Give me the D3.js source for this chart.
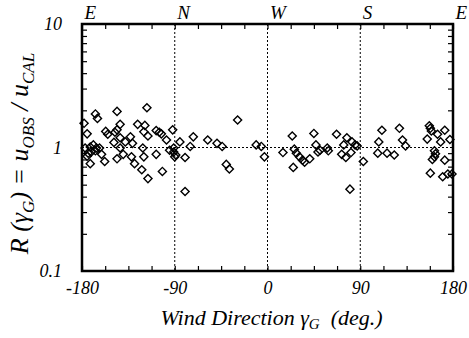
<!DOCTYPE html>
<html>
<head>
<meta charset="utf-8">
<script src="https://cdn.jsdelivr.net/npm/d3@7"></script>
<style>
  html, body { margin: 0; padding: 0; background: #fff; }
  svg { display: block; }
</style>
</head>
<body>
<div id="chart"></div>
<script>
const windDir = [
  -178, -175, -167, -165, -146, -117, -157, -155, -143, -146,
  -148, -126, -119, -120, -116, -108, -105, -103, -98, -92,
  -143, -149, -138, -133, -131, -172, -169, -166, -171, -167,
  -174, -163, -177, -161, -172, -158, -146, -140, -143, -132,
  -129, -122, -116, -121, -120, -108, -102, -95, -91, -175,
  -85, -72, -75, -91, -89, -90, -80, -80, -58, -49,
  -44, -40, -37, -29, -11, -6, -3,
  15, 24, 25, 26, 28, 31, 34, 36, 41, 45,
  47, 49, 58, 59, 67, 74, 77, 72, 76, 81,
  82, 85, 80, 87, 93, 51,
  108, 111, 107, 116, 123, 128, 131, 134, 157, 158,
  159, 155, 165, 168, 172, 177, 162, 163, 162, 160,
  172, 158, 170, 175, 179
];
const ratio = [
  1.57, 1.29, 1.87, 1.72, 1.96, 2.10, 1.35, 1.28, 1.54, 1.39,
  1.33, 1.54, 1.51, 1.34, 1.24, 1.37, 1.33, 1.29, 1.15, 1.39,
  1.20, 1.10, 1.11, 1.22, 1.08, 1.01, 1.05, 0.99, 0.92, 0.94,
  0.90, 0.99, 0.99, 0.88, 0.74, 0.77, 0.81, 0.88, 0.99, 0.84,
  0.74, 0.66, 0.56, 0.99, 0.84, 0.88, 0.64, 0.95, 0.99, 0.85,
  1.11, 1.22, 1.02, 0.92, 0.87, 0.84, 0.83, 0.44, 1.15, 1.08,
  1.02, 0.73, 0.67, 1.67, 1.05, 1.02, 0.84,
  0.91, 1.24, 0.69, 0.97, 0.90, 0.84, 0.79, 0.76, 0.81, 1.30,
  1.05, 0.92, 0.99, 0.94, 1.28, 1.05, 1.20, 0.88, 0.83, 0.91,
  1.11, 1.05, 0.46, 1.03, 0.77, 0.95,
  1.11, 1.38, 0.90, 0.90, 0.87, 1.43, 1.15, 1.03, 1.50, 1.43,
  1.36, 1.17, 1.28, 1.11, 1.38, 1.16, 0.94, 0.89, 0.84, 0.80,
  0.79, 0.62, 0.58, 0.61, 0.61
];

const xTicks = [-180, -90, 0, 90, 180];
const compass = ['E', 'N', 'W', 'S', 'E'];
const yTicks = [0.1, 1, 10];
const guideX = [-90, 0, 90];
const guideY = [1];

const width = 469;
const height = 338;
const margin = { top: 24, right: 16, bottom: 67, left: 82 };
const innerW = width - margin.left - margin.right;
const innerH = height - margin.top - margin.bottom;
const font = "'Liberation Serif', 'Times New Roman', serif";

const x = d3.scaleLinear().domain([-180, 180]).range([0, innerW]);
const y = d3.scaleLog().domain([0.1, 10]).range([innerH, 0]);

const root = d3.select('#chart').append('svg')
  .attr('width', width)
  .attr('height', height)
  .style('font-family', font);

const svg = root.append('g')
  .attr('transform', `translate(${margin.left},${margin.top})`);

// dotted guide lines
svg.selectAll('.gx').data(guideX).join('line')
  .attr('x1', d => x(d)).attr('x2', d => x(d))
  .attr('y1', 0).attr('y2', innerH)
  .attr('stroke', '#000').attr('stroke-width', 1)
  .attr('stroke-dasharray', '2 2');

svg.selectAll('.gy').data(guideY).join('line')
  .attr('x1', 0).attr('x2', innerW)
  .attr('y1', d => y(d)).attr('y2', d => y(d))
  .attr('stroke', '#000').attr('stroke-width', 1)
  .attr('stroke-dasharray', '2 2');

// minor ticks (inward on all four sides)
const minorX = d3.range(-180, 180.1, 22.5);
const minorY = [];
for (const base of [0.1, 1]) for (let k = 2; k <= 9; k++) minorY.push(base * k);

svg.append('g')
  .attr('transform', `translate(0,${innerH})`)
  .call(d3.axisBottom(x).tickValues(minorX).tickSize(-5).tickFormat(''))
  .call(g => g.select('.domain').remove());
svg.append('g')
  .call(d3.axisTop(x).tickValues(minorX).tickSize(-5).tickFormat(''))
  .call(g => g.select('.domain').remove());
svg.append('g')
  .call(d3.axisLeft(y).tickValues(minorY).tickSize(-5).tickFormat(''))
  .call(g => g.select('.domain').remove());
svg.append('g')
  .attr('transform', `translate(${innerW},0)`)
  .call(d3.axisRight(y).tickValues(minorY).tickSize(-5).tickFormat(''))
  .call(g => g.select('.domain').remove());
svg.selectAll('.tick line').attr('stroke', '#000').attr('stroke-width', 1.2);

// tick labels
svg.append('g')
  .attr('transform', `translate(0,${innerH})`)
  .call(d3.axisBottom(x).tickValues(xTicks).tickSize(0).tickPadding(10).tickFormat(d => d))
  .call(g => g.select('.domain').remove())
  .call(g => g.selectAll('.tick text')
    .attr('font-family', font).attr('font-style', 'italic')
    .attr('font-size', '18px').attr('fill', '#000'));

// compass letters sit just right of their tick
svg.append('g')
  .call(d3.axisTop(x).tickValues(xTicks).tickSize(0).tickPadding(5).tickFormat((d, i) => compass[i]))
  .call(g => g.select('.domain').remove())
  .call(g => g.selectAll('.tick text')
    .attr('text-anchor', 'start').attr('x', 2)
    .attr('font-family', font).attr('font-style', 'italic')
    .attr('font-size', '19px').attr('fill', '#000'));

svg.append('g')
  .call(d3.axisLeft(y).tickValues(yTicks).tickSize(0).tickPadding(20).tickFormat(d => d3.format('~g')(d)))
  .call(g => g.select('.domain').remove())
  .call(g => g.selectAll('.tick text')
    .attr('font-family', font).attr('font-style', 'italic')
    .attr('font-size', '18px').attr('fill', '#000'));

// frame
svg.append('rect')
  .attr('width', innerW).attr('height', innerH)
  .attr('fill', 'none').attr('stroke', '#000').attr('stroke-width', 2.5);

// data points: open diamonds
const diamond = d3.symbol().type(d3.symbolSquare).size(33);
const points = windDir.map((d, i) => ({ dir: d, r: ratio[i] }));
svg.append('g').selectAll('path').data(points).join('path')
  .attr('d', diamond)
  .attr('transform', d => `translate(${x(d.dir)},${y(d.r)}) rotate(45)`)
  .attr('fill', 'none')
  .attr('stroke', '#000')
  .attr('stroke-width', 1.4);

// x axis title
const xt = root.append('text')
  .attr('x', margin.left + innerW / 2 + 4)
  .attr('y', 325)
  .attr('text-anchor', 'middle')
  .attr('font-style', 'italic')
  .attr('font-size', '22px');
xt.append('tspan').text('Wind Direction \u03b3');
xt.append('tspan').attr('font-size', '15px').attr('dy', 4).text('G');
xt.append('tspan').attr('dy', -4).text('\u00a0\u00a0(deg.)');

// y axis title
const yt = root.append('text')
  .attr('transform', `translate(28,${margin.top + innerH / 2 + 6}) rotate(-90)`)
  .attr('text-anchor', 'middle')
  .attr('font-style', 'italic')
  .attr('font-size', '26px');
yt.append('tspan').text('R (\u03b3');
yt.append('tspan').attr('font-size', '17px').attr('dy', 6).text('G');
yt.append('tspan').attr('dy', -6).text(') = u');
yt.append('tspan').attr('font-size', '17px').attr('dy', 6).text('OBS');
yt.append('tspan').attr('dy', -6).text(' / u');
yt.append('tspan').attr('font-size', '17px').attr('dy', 6).text('CAL');
</script>
</body>
</html>
